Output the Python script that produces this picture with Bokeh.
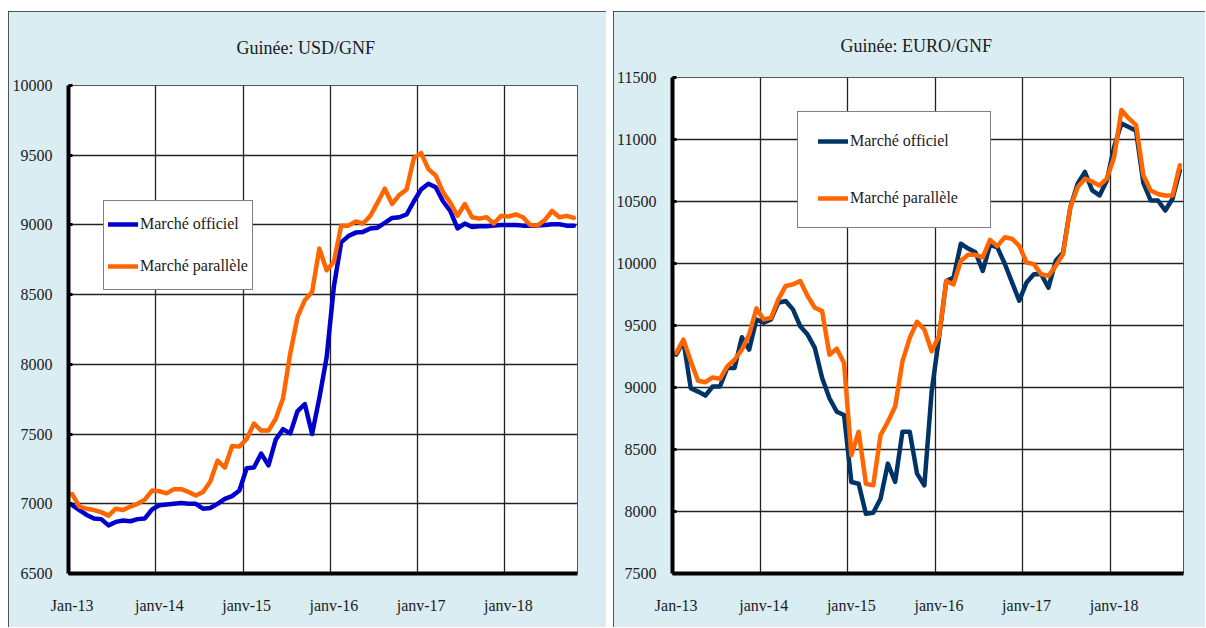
from bokeh.plotting import figure
from bokeh.models import Range1d, FixedTicker, Legend, LegendItem
from bokeh.layouts import row, column
from bokeh.embed import file_html
from bokeh.resources import INLINE

# ---------------- data (monthly, Jan-2013 .. Oct-2018) ----------------
tick_labels = ["Jan-13", "janv-14", "janv-15", "janv-16", "janv-17", "janv-18"]
series_names = ["Marché officiel", "Marché parallèle"]

usd_officiel = [6990, 6955, 6920, 6895, 6890, 6845, 6870, 6880, 6875, 6890,
                6895, 6960, 6990, 6995, 7000, 7005, 7000, 7000, 6965, 6970,
                7000, 7035, 7055, 7095, 7255, 7260, 7360, 7275, 7460, 7535,
                7505, 7665, 7715, 7500, 7760, 8050, 8560, 8875, 8920, 8945,
                8950, 8975, 8980, 9015, 9050, 9055, 9075, 9170, 9255, 9295,
                9270, 9170, 9100, 8975, 9010, 8985, 8990, 8990, 8995, 9000,
                9000, 9000, 8995, 8995, 8995, 9000, 9005, 9005, 8995, 8995]
usd_parallele = [7070, 6980, 6965, 6955, 6940, 6915, 6965, 6955, 6980, 7000,
                 7030, 7095, 7090, 7075, 7105, 7105, 7085, 7060, 7085, 7160,
                 7310, 7260, 7415, 7410, 7465, 7575, 7525, 7525, 7610, 7755,
                 8080, 8340, 8460, 8520, 8830, 8675, 8735, 8995, 8995, 9025,
                 9010, 9065, 9160, 9260, 9150, 9215, 9255, 9480, 9515, 9400,
                 9355, 9235, 9160, 9065, 9150, 9055, 9045, 9055, 9010, 9065,
                 9060, 9075, 9055, 9000, 8995, 9035, 9100, 9055, 9065, 9050]
eur_officiel = [9265, 9373, 8994, 8967, 8935, 9008, 9008, 9157, 9157, 9405,
                9305, 9549, 9522, 9549, 9684, 9697, 9630, 9494, 9427, 9319,
                9076, 8913, 8805, 8778, 8238, 8224, 7981, 7990, 8103, 8386,
                8238, 8643, 8643, 8305, 8211, 8967, 9400, 9859, 9886, 10160,
                10120, 10090, 9940, 10150, 10130, 10000, 9850, 9700, 9846, 9913,
                9913, 9805, 10022, 10089, 10454, 10643, 10738, 10589, 10549, 10670,
                10941, 11130, 11100, 11070, 10650, 10508, 10508, 10427, 10522, 10751]
eur_parallele = [9278, 9386, 9211, 9054, 9043, 9081, 9070, 9170, 9224, 9305,
                 9427, 9638, 9549, 9562, 9711, 9819, 9832, 9859, 9738, 9643,
                 9616, 9265, 9313, 9197, 8454, 8643, 8224, 8211, 8616, 8724,
                 8846, 9211, 9400, 9530, 9468, 9292, 9413, 9859, 9832, 10022,
                 10070, 10070, 10050, 10190, 10140, 10211, 10200, 10143, 10008, 9995,
                 9913, 9900, 9981, 10076, 10454, 10616, 10684, 10660, 10630, 10684,
                 10859, 11238, 11170, 11116, 10711, 10589, 10560, 10549, 10549, 10792]

months = [i + 0.5 for i in range(len(usd_officiel))]

FONT = "Liberation Serif"
BG = "#daedf3"
TXT = "#1a1a1a"
H = 616


def make_panel(title, width, bl, br, bt, y0, y1, off, par, col_off,
               t_standoff, t_valign, leg_loc, leg_pad, leg_gh, leg_sp, leg_lw):
    p = figure(width=width, height=H, output_backend="svg", toolbar_location=None,
               x_range=Range1d(0, 70), y_range=Range1d(y0, y1),
               min_border_left=bl, min_border_right=br, min_border_top=bt,
               min_border_bottom=H - (573 - 11), background_fill_color="white",
               border_fill_color=BG, outline_line_color="#555", outline_line_width=1)
    p.styles = {"outline": "1px solid #222", "outline-offset": "-1px"}
    p.title.text = title
    p.title.text_font = FONT
    p.title.text_font_size = "18px"
    p.title.text_font_style = "normal"
    p.title.text_color = TXT
    p.title.align = "left"
    p.title.offset = 168
    p.title.standoff = t_standoff
    p.title.vertical_align = t_valign

    r1 = p.line(months, off, line_color=col_off, line_width=4.5,
                line_join="round", line_cap="round")
    r2 = p.line(months, par, line_color="#ff6600", line_width=4.5,
                line_join="round", line_cap="round")

    # axes
    for ax in (p.xaxis[0], p.yaxis[0]):
        ax.axis_line_width = 4
        ax.axis_line_color = "black"
        ax.major_label_text_font = FONT
        ax.major_label_text_font_size = "16px"
        ax.major_label_text_color = TXT
        ax.minor_tick_line_color = None
    p.xaxis.ticker = FixedTicker(ticks=[0.5 + 12 * k for k in range(len(tick_labels))])
    p.xaxis.major_label_overrides = {0.5 + 12 * k: lab for k, lab in enumerate(tick_labels)}
    p.xaxis.major_tick_in = 0
    p.xaxis.major_tick_out = 0
    p.xaxis.major_label_standoff = 23
    p.yaxis.ticker = FixedTicker(ticks=list(range(y0, y1 + 1, 500)))
    p.yaxis.major_tick_in = 4
    p.yaxis.major_tick_out = 0
    p.yaxis.major_tick_line_width = 3
    p.yaxis.major_label_standoff = 16

    p.xgrid.ticker = FixedTicker(ticks=[12, 24, 36, 48, 60])
    p.xgrid.grid_line_color = "#222"
    p.xgrid.grid_line_width = 1.3
    p.ygrid.grid_line_color = "#222"
    p.ygrid.grid_line_width = 1.6

    leg = Legend(items=[LegendItem(label=series_names[0], renderers=[r1]),
                        LegendItem(label=series_names[1], renderers=[r2])],
                 location=leg_loc, padding=leg_pad, margin=0, spacing=leg_sp,
                 glyph_width=30, glyph_height=leg_gh, label_height=leg_gh,
                 label_width=leg_lw,
                 label_standoff=2, label_text_font=FONT, label_text_font_size="16px",
                 label_text_color=TXT, border_line_color="black", border_line_width=1.3,
                 background_fill_color="white", background_fill_alpha=1)
    p.add_layout(leg)
    return p


p1 = make_panel("Guinée: USD/GNF", 598, 60, 29, 85 - 11, 6500, 10000,
                usd_officiel, usd_parallele, "#0000cc", 52, "top",
                (35, 283), 4, 38, 4, 20)
p2 = make_panel("Guinée: EURO/GNF", 592, 59, 22, 77 - 11, 7500, 11500,
                eur_officiel, eur_parallele, "#003366", 44, "bottom",
                (125, 345), 20, 18, 39, 120)

layout = row(column(p1), column(p2), spacing=7, margin=(11, 0, 0, 8))
open("out.html", "w").write(file_html(layout, INLINE))
